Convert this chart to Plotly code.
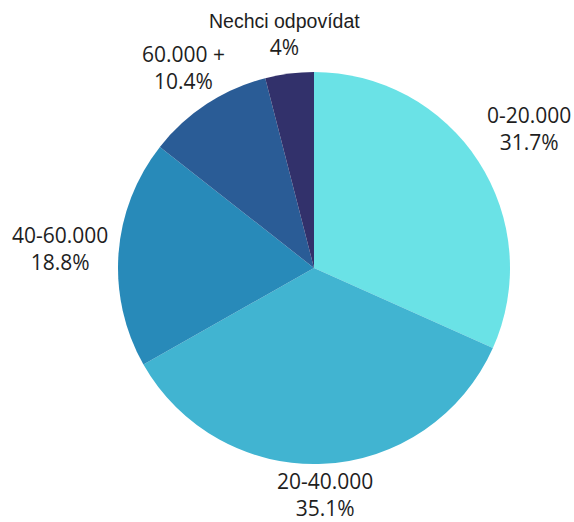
import math
import plotly.graph_objects as go

# Income bands and their share of respondents (%)
categories = ["0-20.000", "20-40.000", "40-60.000", "60.000 +", "Nechci odpovídat"]
shares = [31.7, 35.1, 18.8, 10.4, 4]
slice_colors = ["#6AE2E6", "#41B4D1", "#288AB9", "#2A5C96", "#32316B"]

W, H = 574, 522
M = dict(l=118, r=64, t=72, b=58)
plot_w = W - M["l"] - M["r"]
plot_h = H - M["t"] - M["b"]
radius = min(plot_w, plot_h) / 2
cx = M["l"] + plot_w / 2
cy = M["t"] + plot_h / 2

LABEL_SIZE = 21
LABEL_FONT = "Open Sans"
TEXT_COLOR = "#1e1e1e"
CHAR_W = {"-": 0.322, ".": 0.266, " ": 0.26, "%": 0.823, "+": 0.572}


def text_width(s, size):
    return sum(CHAR_W.get(ch, 0.572) for ch in s) * size


fig = go.Figure(
    go.Pie(
        labels=categories,
        values=shares,
        textinfo="none",
        sort=False,
        direction="clockwise",
        rotation=0,
        marker=dict(colors=slice_colors, line=dict(width=0)),
        showlegend=False,
        hoverinfo="label+percent",
    )
)

# Two-line labels placed just outside each slice, centred on its mid-angle
total = sum(shares)
cum = 0.0
pad = 10
box_half_h = 28
for cat, val in zip(categories, shares):
    mid = (cum + val / 2) / total * 2 * math.pi
    cum += val
    sx, sy = math.sin(mid), -math.cos(mid)
    pct = f"{val:g}%"
    if cat == "Nechci odpovídat":
        first = f"<span style='font-family:Liberation Sans;font-size:19.5px'>{cat}</span>"
        half_w = 153 / 2
    else:
        first = cat
        half_w = max(text_width(cat, LABEL_SIZE), text_width(pct, LABEL_SIZE)) / 2
    ext = min(
        half_w / abs(sx) if abs(sx) > 1e-6 else 1e9,
        box_half_h / abs(sy) if abs(sy) > 1e-6 else 1e9,
    )
    dist = radius + pad + ext
    px = cx + dist * sx
    # keep the two text lines inside the canvas
    py = min(max(cy + dist * sy, 26), H - 27.5)
    fig.add_annotation(
        x=(px - M["l"]) / plot_w,
        y=1 - (py - M["t"]) / plot_h,
        xref="paper",
        yref="paper",
        text=f"{first}<br>{pct}",
        showarrow=False,
        xanchor="center",
        yanchor="middle",
        align="center",
        font=dict(family=LABEL_FONT, size=LABEL_SIZE, color=TEXT_COLOR),
    )

fig.update_layout(
    width=W,
    height=H,
    margin=M,
    paper_bgcolor="white",
    plot_bgcolor="white",
)

fig.write_html("out.html")
